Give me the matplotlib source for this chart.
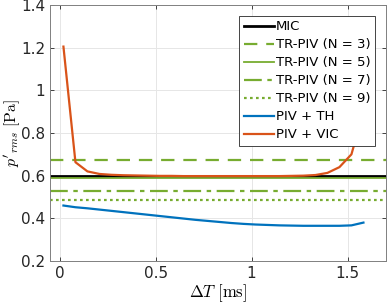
import matplotlib
matplotlib.use("Agg")
import matplotlib.pyplot as plt
import numpy as np

plt.rcParams['font.family'] = ['DejaVu Sans']
plt.rcParams['mathtext.fontset'] = 'cm'

mic = 0.60
tr_levels = [0.675, 0.588, 0.529, 0.484]
tr_labels = ['TR-PIV (N = 3)', 'TR-PIV (N = 5)', 'TR-PIV (N = 7)', 'TR-PIV (N = 9)']

dT = [0.02, 0.0825, 0.145, 0.2075, 0.27, 0.3325, 0.395, 0.4575, 0.52, 0.5825,
      0.645, 0.7075, 0.77, 0.8325, 0.895, 0.9575, 1.02, 1.0825, 1.145, 1.2075,
      1.27, 1.3325, 1.395, 1.4575, 1.52, 1.5825]
th = [0.460, 0.452, 0.447, 0.441, 0.435, 0.429, 0.423, 0.417, 0.411, 0.405,
      0.399, 0.393, 0.388, 0.383, 0.378, 0.374, 0.371, 0.369, 0.367, 0.366,
      0.365, 0.365, 0.365, 0.365, 0.367, 0.380]
vic = [1.205, 0.663, 0.620, 0.608, 0.604, 0.602, 0.601, 0.600, 0.599, 0.599,
       0.598, 0.598, 0.598, 0.598, 0.598, 0.598, 0.598, 0.598, 0.598, 0.599,
       0.600, 0.603, 0.613, 0.640, 0.700, 0.900]

green = '#77AC30'
fig = plt.figure(figsize=(3.87, 3.06), dpi=100)
ax = fig.add_axes([50/387, 1-261/306, 336/387, 256/306])

ax.axhline(mic, color='black', lw=2.0, label='MIC')
styles = [(0, (6, 4)), '-', (0, (8, 2.5, 2, 2.5)), (0, (1.2, 1.5))]
widths = [1.6, 1.3, 1.6, 1.6]
for lvl, lab, ls, w in zip(tr_levels, tr_labels, styles, widths):
    ax.axhline(lvl, color=green, lw=w, ls=ls, label=lab)
ax.plot(dT, th, color='#0072BD', lw=1.6, label='PIV + TH')
ax.plot(dT, vic, color='#D95319', lw=1.6, label='PIV + VIC')

ax.set_xlim(-0.05, 1.7)
ax.set_ylim(0.2, 1.4)
ax.set_xticks([0, 0.5, 1, 1.5])
ax.set_xticklabels(['0', '0.5', '1', '1.5'])
ax.set_yticks([0.2, 0.4, 0.6, 0.8, 1.0, 1.2, 1.4])
ax.set_yticklabels(['0.2', '0.4', '0.6', '0.8', '1', '1.2', '1.4'])
ax.grid(True, color='#e6e6e6', lw=0.7)
ax.set_axisbelow(True)
ax.tick_params(direction='in', top=True, right=True, length=3, width=0.6,
               labelsize=11, colors='#262626')
for s in ax.spines.values():
    s.set_color('#808080')
    s.set_linewidth(0.7)

ax.set_xlabel(r"$\Delta T\ \mathrm{[ms]}$", fontsize=12, labelpad=1)
ax.set_ylabel(r"$p'_{rms}\ \mathrm{[Pa]}$", fontsize=11.5, labelpad=0)
ax.yaxis.set_label_coords(-0.083, 0.5)

leg = ax.legend(loc='upper right', fontsize=9.5, frameon=True, fancybox=False,
                edgecolor='#262626', framealpha=1, borderpad=0.35, labelspacing=0.38,
                handlelength=2.3, handletextpad=0.15, borderaxespad=0.8)
leg.get_frame().set_linewidth(0.6)

fig.savefig('out.png', dpi=100)
